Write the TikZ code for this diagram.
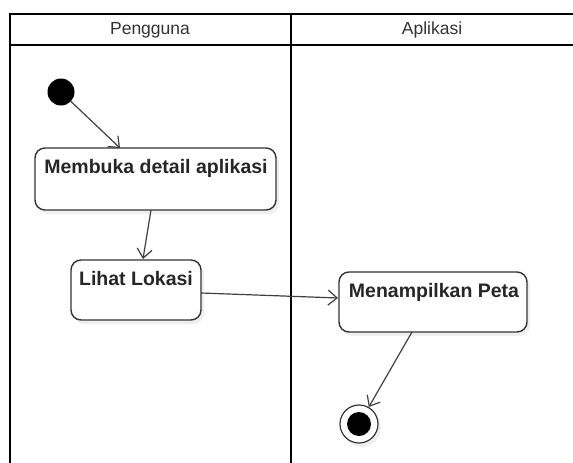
\documentclass[tikz,border=0pt]{standalone}
\usepackage{fontspec}
\setmainfont{Liberation Sans}
\usetikzlibrary{arrows.meta,shadows}
\begin{document}
\begin{tikzpicture}[x=1pt,y=-1pt,
  act/.style={draw=black!80,line width=1.4pt,rounded corners=10pt,fill=white,
    drop shadow={opacity=0.12,shadow xshift=3pt,shadow yshift=-4pt}},
  acttext/.style={font=\bfseries\fontsize{19.5}{22}\selectfont,text=black!85},
  flow/.style={draw=black!75,line width=1.2pt,-{Straight Barb[length=9pt,width=15pt]}},
  lane/.style={draw=black,line width=2.5pt}]
\useasboundingbox (0,0) rectangle (573,463);
\fill[white] (0,0) rectangle (573,463);
% swimlanes
\draw[lane] (10,470) -- (10,14) -- (590,14);
\draw[lane] (10,45) -- (590,45);
\draw[lane] (291,14) -- (291,470);
\node[font=\fontsize{17.5}{20}\selectfont,text=black!80] (h1) at (150,30) {Pengguna};
\node[font=\fontsize{17.5}{20}\selectfont,text=black!80] (h2) at (432,30) {Aplikasi};
% start
\node[circle,fill=black,minimum size=27pt,inner sep=0pt] (start) at (61,92) {};
% boxes
\path[act] (35,148) rectangle (276,210);
\coordinate (b1top) at (120,148);
\coordinate (b1bot) at (151,210);
\node[acttext] (t1) at (156,168) {Membuka detail aplikasi};
\path[act] (71,260) rectangle (201,320);
\coordinate (b2top) at (143,259);
\coordinate (b2right) at (201,293);
\node[acttext] (t2) at (136,279) {Lihat Lokasi};
\path[act] (339,272) rectangle (527,332);
\coordinate (b3left) at (338,298);
\coordinate (b3bot) at (412,332);
\node[acttext] (t3) at (434,292) {Menampilkan Peta};
% end
\node[circle,draw=black!80,line width=1.2pt,fill=white,minimum size=38pt,inner sep=0pt,
  drop shadow={opacity=0.12,shadow xshift=3pt,shadow yshift=-4pt}] (end) at (359,424) {};
\node[circle,fill=black,minimum size=24pt,inner sep=0pt] (endin) at (359,424) {};
% flows
\draw[flow] (start) -- (b1top);
\draw[flow] (b1bot) -- (b2top);
\draw[flow] (b2right) -- (b3left);
\draw[flow] (b3bot) -- (end);
\end{tikzpicture}
\end{document}
